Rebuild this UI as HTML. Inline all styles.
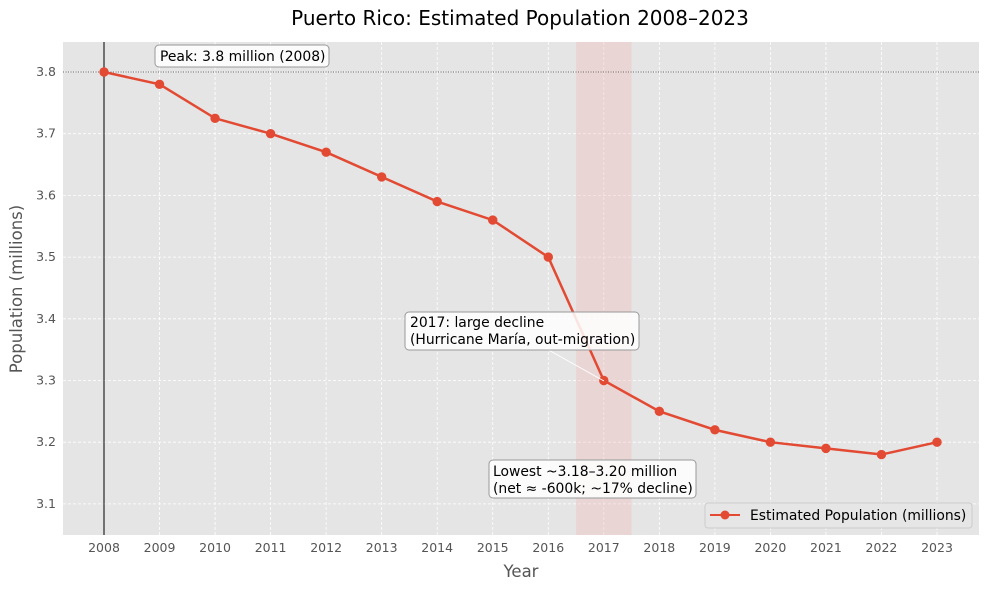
<!DOCTYPE html>
<html><head><meta charset="utf-8"><style>
body{margin:0;background:#fff;}
svg{font-family:"DejaVu Sans","Liberation Sans",sans-serif;}
</style></head><body>
<svg id="c" width="987" height="588" xmlns="http://www.w3.org/2000/svg">
<text x="520" y="25" text-anchor="middle" font-size="20" fill="#000">Puerto Rico: Estimated Population 2008–2023</text>
<rect x="63" y="42" width="916" height="493" fill="#e5e5e5"/>
<g id="grid"></g><g id="ticks"></g>
<g id="marks"></g>
<text x="521" y="577" text-anchor="middle" font-size="16.5" fill="#555">Year</text>
<text transform="translate(22,289) rotate(-90)" text-anchor="middle" font-size="16.5" fill="#555">Population (millions)</text>
<g>
<rect x="155" y="45" width="174" height="22" rx="4" fill="#fff" fill-opacity="0.85" stroke="#999"/>
<text x="160" y="61" font-size="13.9" fill="#000">Peak: 3.8 million (2008)</text></g>
<line x1="545" y1="348" x2="604" y2="381" stroke="#fff" stroke-width="1"/>
<g>
<rect x="405" y="312" width="234" height="38" rx="4" fill="#fff" fill-opacity="0.85" stroke="#999"/>
<text x="410" y="327" font-size="13.9" fill="#000">2017: large decline</text>
<text x="410" y="344" font-size="13.9" fill="#000">(Hurricane María, out-migration)</text></g>
<g>
<rect x="489" y="460" width="207" height="38" rx="4" fill="#fff" fill-opacity="0.85" stroke="#999"/>
<text x="493" y="476" font-size="13.9" fill="#000">Lowest ~3.18–3.20 million</text>
<text x="493" y="493" font-size="13.9" fill="#000">(net ≈ -600k; ~17% decline)</text></g>
<g>
<rect x="705" y="503" width="267" height="25" rx="3" fill="#e5e5e5" fill-opacity="0.9" stroke="#ccc"/>
<line x1="710" y1="515" x2="740" y2="515" stroke="#e24a33" stroke-width="2"/>
<circle cx="725" cy="515" r="4.5" fill="#e24a33"/>
<text x="750" y="520" font-size="13.9" fill="#000">Estimated Population (millions)</text></g>
</svg>
<script>
const years=[2008,2009,2010,2011,2012,2013,2014,2015,2016,2017,2018,2019,2020,2021,2022,2023];
const pop=[3.8,3.78,3.725,3.70,3.67,3.63,3.59,3.56,3.50,3.30,3.25,3.22,3.20,3.19,3.18,3.20];
const yTicks=[3.1,3.2,3.3,3.4,3.5,3.6,3.7,3.8];
const NS="http://www.w3.org/2000/svg";
const X=v=>104+(v-2008)*(833/15);
const Y=v=>72+(3.8-v)*617;
function mk(p,t,a){const e=document.createElementNS(NS,t);for(const k in a)e.setAttribute(k,a[k]);document.getElementById(p).appendChild(e);return e;}
yTicks.forEach(v=>{
 const l=mk('grid','line',{x1:63,x2:979,y1:Y(v),y2:Y(v),stroke:'#fff','stroke-dasharray':'3,2','stroke-width':0.8});
 
 
 const t=mk('ticks','text',{x:56,y:Y(v)+4,'text-anchor':'end','font-size':12.5,fill:'#555'});t.textContent=v.toFixed(1);
 
 
});
years.forEach(v=>{
 const l=mk('grid','line',{x1:X(v),x2:X(v),y1:42,y2:535,stroke:'#fff','stroke-dasharray':'3,2','stroke-width':0.8});
 
 
 const t=mk('ticks','text',{x:X(v),y:552,'text-anchor':'middle','font-size':12.5,fill:'#555'});t.textContent=v;
 
 
});
const sp=mk('marks','rect',{x:X(2016.5),y:42,width:X(2017.5)-X(2016.5),height:493,fill:'#f4b6b6','fill-opacity':0.35});


const vl=mk('marks','line',{x1:X(2008),x2:X(2008),y1:42,y2:535,stroke:'#000','stroke-width':1});


const hl=mk('marks','line',{x1:63,x2:979,y1:Y(3.8),y2:Y(3.8),stroke:'#666','stroke-dasharray':'1,1.5','stroke-width':1});


const pl=mk('marks','polyline',{points:years.map((y,i)=>X(y)+','+Y(pop[i])).join(' '),fill:'none',stroke:'#e24a33','stroke-width':2.5});


years.forEach((y,i)=>{const c=mk('marks','circle',{cx:X(y),cy:Y(pop[i]),r:4.7,fill:'#e24a33'});
 
 });
</script>
</body></html>
